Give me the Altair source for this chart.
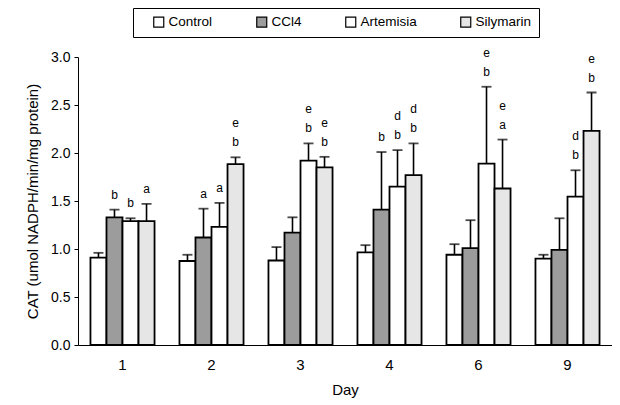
import altair as alt
import pandas as pd

days = ["1", "2", "3", "4", "6", "9"]
groups = ["Control", "CCl4", "Artemisia", "Silymarin"]

means = {
    "Control":   [0.91, 0.875, 0.88, 0.965, 0.94, 0.90],
    "CCl4":      [1.33, 1.12, 1.17, 1.41, 1.01, 0.99],
    "Artemisia": [1.29, 1.23, 1.92, 1.65, 1.89, 1.545],
    "Silymarin": [1.29, 1.885, 1.85, 1.77, 1.63, 2.23],
}
sds = {
    "Control":   [0.05, 0.065, 0.14, 0.075, 0.11, 0.04],
    "CCl4":      [0.08, 0.30, 0.16, 0.60, 0.29, 0.33],
    "Artemisia": [0.03, 0.25, 0.18, 0.38, 0.80, 0.275],
    "Silymarin": [0.18, 0.07, 0.11, 0.33, 0.51, 0.40],
}
letters_low = {
    "Control":   ["", "", "", "", "", ""],
    "CCl4":      ["b", "a", "", "b", "", ""],
    "Artemisia": ["b", "a", "b", "b", "b", "b"],
    "Silymarin": ["a", "b", "b", "b", "a", "b"],
}
letters_high = {
    "Control":   ["", "", "", "", "", ""],
    "CCl4":      ["", "", "", "", "", ""],
    "Artemisia": ["", "", "e", "d", "e", "d"],
    "Silymarin": ["", "e", "e", "d", "e", "e"],
}
fills = ["#ffffff", "#9c9c9c", "#ffffff", "#e6e6e6"]

rows = []
for g in groups:
    for i, d in enumerate(days):
        m = means[g][i]
        rows.append({"day": d, "group": g, "mean": m, "top": m + sds[g][i],
                     "low": letters_low[g][i], "high": letters_high[g][i]})
df = pd.DataFrame(rows)

FONT = "Liberation Sans"

x = alt.X("day:N", sort=days, title="Day",
          scale=alt.Scale(paddingInner=0.28, paddingOuter=0.14),
          axis=alt.Axis(labelAngle=0, ticks=False, labelPadding=12, titlePadding=10,
                        labelFontSize=15, titleFontSize=15, labelColor="black",
                        titleColor="black", titleFontWeight="normal", domainColor="black"))
xo = alt.XOffset("group:N", sort=groups, scale=alt.Scale(paddingInner=0, paddingOuter=0))

bars = alt.Chart(df).mark_bar(stroke="black", strokeWidth=1.8).encode(
    x=x, xOffset=xo,
    y=alt.Y("mean:Q", title="CAT (umol NADPH/min/mg protein)",
            scale=alt.Scale(domain=[0, 3]),
            axis=alt.Axis(values=[0, 0.5, 1.0, 1.5, 2.0, 2.5, 3.0], format=".1f",
                          grid=False, tickSize=4, labelPadding=4, titlePadding=10,
                          labelFontSize=14, titleFontSize=15, labelColor="black",
                          titleColor="black", titleFontWeight="normal",
                          domainColor="black", tickColor="black")),
    fill=alt.Fill("group:N", sort=groups,
                  scale=alt.Scale(domain=groups, range=fills),
                  legend=alt.Legend(title=None, orient="none", direction="horizontal",
                                    legendX=55, legendY=-49, strokeColor="black",
                                    padding=7, symbolType="square", symbolSize=100,
                                    symbolStrokeColor="black", symbolStrokeWidth=1.2,
                                    labelFontSize=13.5, labelColor="black",
                                    columnPadding=30, symbolOffset=12,
                                    labelOffset=3)),
)

err = alt.Chart(df).mark_rule(color="black", strokeWidth=1.6).encode(
    x=x, xOffset=xo, y="mean:Q", y2="top:Q")

cap = alt.Chart(df).mark_tick(color="black", thickness=1.8, size=10, orient="horizontal").encode(
    x=x, xOffset=xo, y="top:Q")

txt_low = alt.Chart(df).mark_text(fontSize=12, dy=-15, baseline="middle", color="black",
                                  font=FONT).encode(
    x=x, xOffset=xo, y="top:Q", text="low:N")
txt_high = alt.Chart(df).mark_text(fontSize=12, dy=-34, baseline="middle", color="black",
                                   font=FONT).encode(
    x=x, xOffset=xo, y="top:Q", text="high:N")

chart = alt.layer(bars, err, cap, txt_low, txt_high).properties(
    width=534, height=288,
    autosize=alt.AutoSizeParams(type="none"),
    padding={"left": 70, "top": 49, "right": 0, "bottom": 58},
).configure(font=FONT).configure_view(stroke=None)

chart.save("out.html", embed_options={"renderer": "svg", "actions": False})
